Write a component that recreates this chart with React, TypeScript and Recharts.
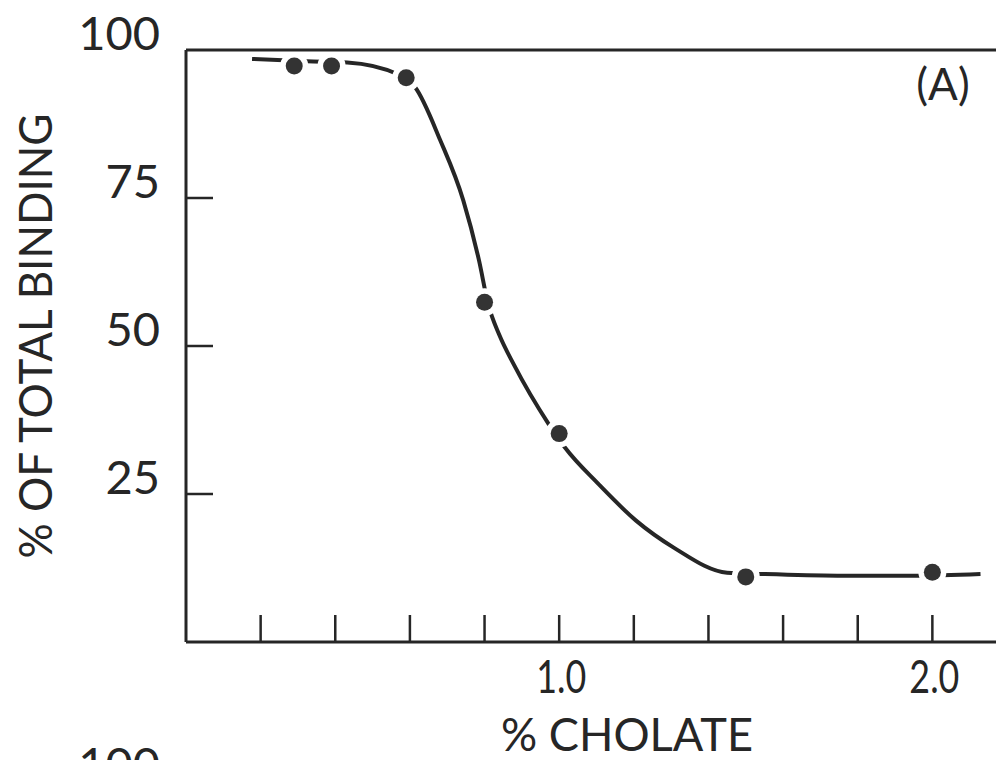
import { ComposedChart, Line, XAxis, YAxis, ReferenceLine } from "recharts";

// measured points
const cholate = [0.29, 0.39, 0.59, 0.8, 1.0, 1.5, 2.0];
const binding = [97.3, 97.3, 95.3, 57.4, 35.2, 11.0, 11.8];

// hand drawn fit curve
const curveX = [0.177, 0.324, 0.432, 0.568, 0.614, 0.681, 0.743, 0.785, 0.81, 0.84, 0.879, 0.971, 1.016, 1.105, 1.206, 1.308, 1.45, 1.536, 1.745, 1.954, 2.129];
const curveY = [98.5, 98.1, 97.9, 95.9, 93.7, 84.8, 74.6, 64.5, 57.0, 51.8, 46.8, 36.9, 32.8, 26.7, 20.5, 15.9, 11.7, 11.5, 11.2, 11.2, 11.5];

const xTicks = [0.2, 0.4, 0.6, 0.8, 1.0, 1.2, 1.4, 1.6, 1.8, 2.0];
const xLabels: Record<string, string> = { "1": "1.0", "2": "2.0" };
const yTicks = [25, 50, 75, 100];

const points = cholate.map((x, i) => ({ x, y: binding[i] }));
const curve = curveX.map((x, i) => ({ x, y: curveY[i] }));

const INK = "#262626";
const FONT = "Lato, 'DejaVu Sans', sans-serif";
const AXIS_X = 186;
const AXIS_Y = 642;

const XTick = (props: any) => {
  const { x, payload } = props;
  const label = xLabels[String(payload.value)];
  return (
    <g>
      <line x1={x} x2={x} y1={AXIS_Y} y2={AXIS_Y - 27} stroke={INK} strokeWidth={2.5} />
      {label && (
        <text x={x + 2} y={AXIS_Y + 33} textAnchor="middle" dominantBaseline="central" fontSize={47} fontFamily={FONT} fill={INK} textLength={50} lengthAdjust="spacingAndGlyphs">
          {label}
        </text>
      )}
    </g>
  );
};

const YTick = (props: any) => {
  const { y, payload } = props;
  return (
    <g>
      {payload.value !== 100 && (
        <line x1={AXIS_X} x2={AXIS_X + 27} y1={y} y2={y} stroke={INK} strokeWidth={2.5} />
      )}
      <text x={160} y={y - 18} textAnchor="end" dominantBaseline="central" fontSize={47} fontFamily={FONT} fill={INK}>
        {payload.value}
      </text>
    </g>
  );
};

const Dot = (props: any) => {
  const { cx, cy, index } = props;
  return (
    <g key={`dot-${index}`}>
      <circle cx={cx} cy={cy} r={14} fill="#ffffff" />
      <circle cx={cx} cy={cy} r={8.5} fill="#333333" />
    </g>
  );
};

export default function App() {
  return (
    <div style={{ position: "absolute", left: 0, top: 0, width: 996, height: 760, overflow: "hidden", background: "#fff" }}>
      <ComposedChart width={1007} height={760} margin={{ top: 50, right: 0, bottom: 0, left: 0 }}>
        <XAxis
          type="number"
          dataKey="x"
          domain={[0, 2.2]}
          ticks={xTicks}
          tick={<XTick />}
          tickLine={false}
          axisLine={{ stroke: INK, strokeWidth: 3 }}
          height={118}
          allowDataOverflow
        />
        <YAxis
          type="number"
          dataKey="y"
          domain={[0, 100]}
          ticks={yTicks}
          tick={<YTick />}
          tickLine={false}
          axisLine={{ stroke: INK, strokeWidth: 3 }}
          width={186}
        />
        <Line data={curve} dataKey="y" type="monotone" stroke={INK} strokeWidth={4} dot={false} isAnimationActive={false} />
        <Line data={points} dataKey="y" type="linear" stroke="none" dot={<Dot />} activeDot={false} isAnimationActive={false} />
        <ReferenceLine y={100} stroke={INK} strokeWidth={3} />
      </ComposedChart>
      <svg width={996} height={760} style={{ position: "absolute", left: 0, top: 0, pointerEvents: "none" }}>
        <text x={34} y={336} transform="rotate(-90 34 336)" textAnchor="middle" dominantBaseline="central" fontSize={47} fontFamily={FONT} fill={INK} textLength={445} lengthAdjust="spacingAndGlyphs">
          % OF TOTAL BINDING
        </text>
        <text x={627} y={733} textAnchor="middle" dominantBaseline="central" fontSize={47} fontFamily={FONT} fill={INK} textLength={252} lengthAdjust="spacingAndGlyphs">
          % CHOLATE
        </text>
        <text x={943} y={83} textAnchor="middle" dominantBaseline="central" fontSize={44} fontFamily={FONT} fill={INK}>
          (A)
        </text>
        <text x={160} y={781} textAnchor="end" fontSize={47} fontFamily={FONT} fill={INK}>
          100
        </text>
      </svg>
    </div>
  );
}
